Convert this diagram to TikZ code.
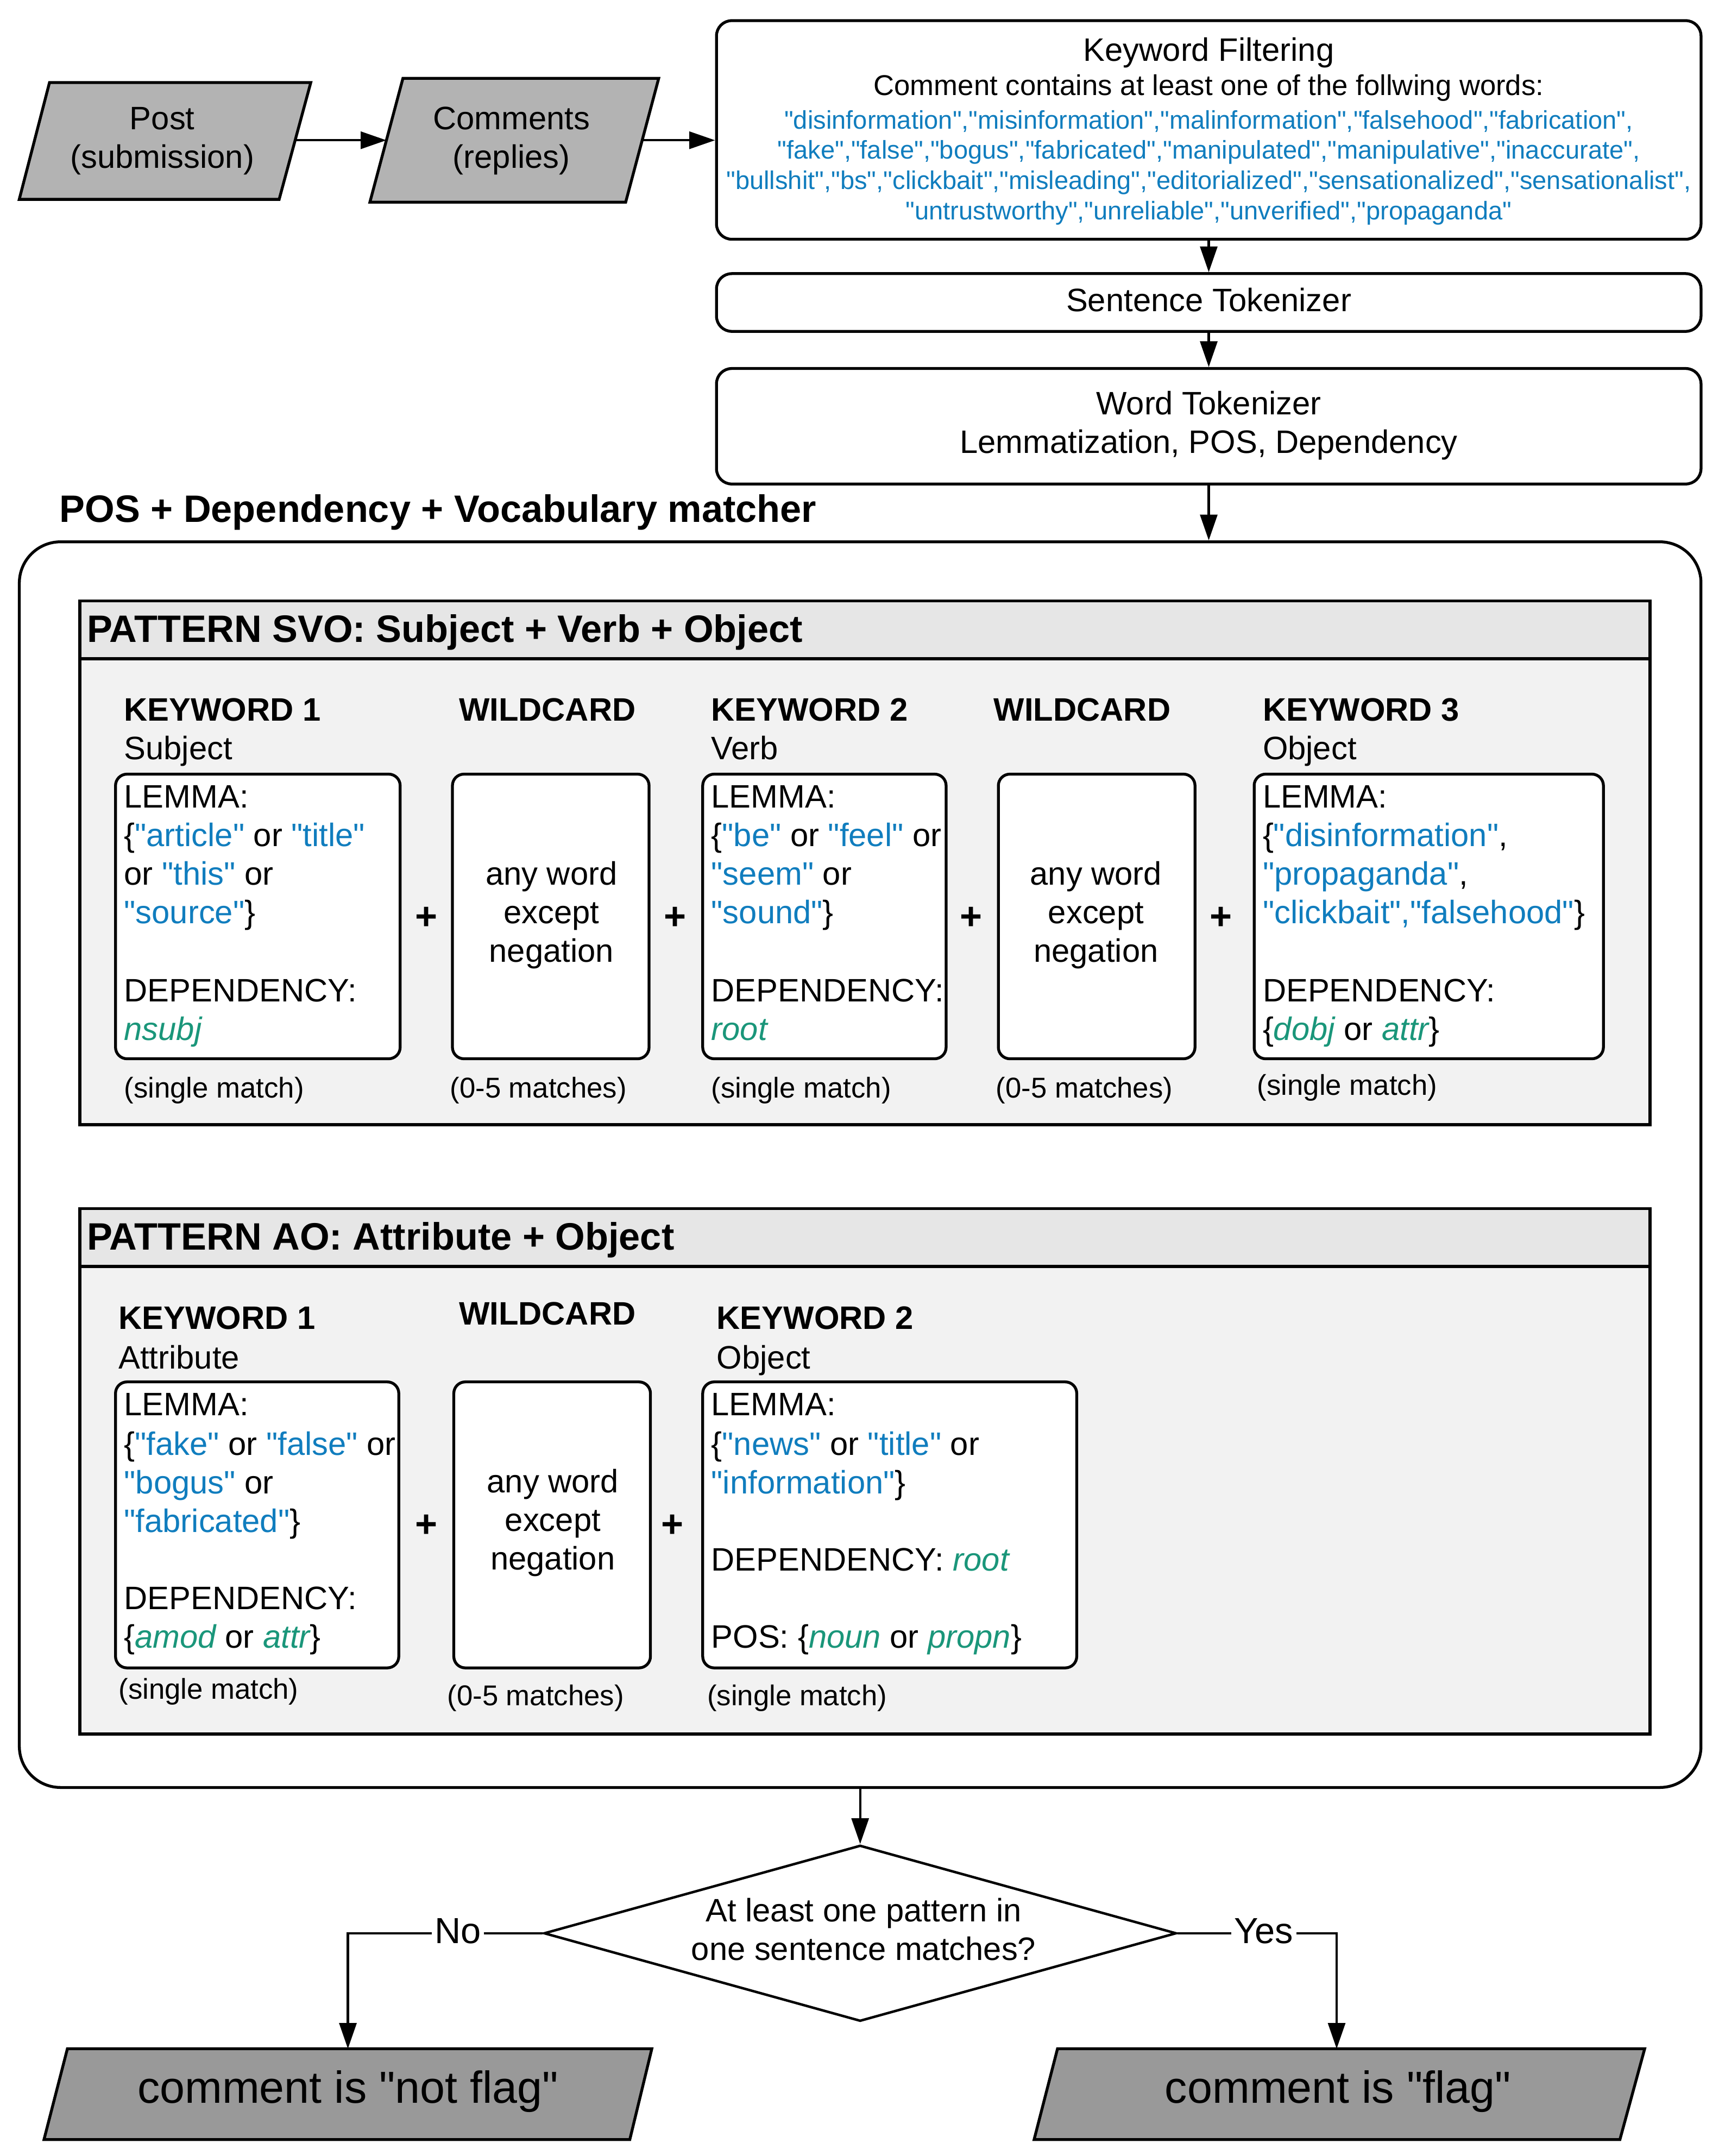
\documentclass[tikz,border=0pt]{standalone}
\usepackage{fontspec}
\setmainfont{Liberation Sans}[Ligatures=TeXOff]
\usetikzlibrary{arrows.meta,shapes.geometric}
\definecolor{kwblue}{RGB}{16,125,190}
\definecolor{depgreen}{RGB}{26,150,122}
\definecolor{iogray}{RGB}{179,179,179}
\definecolor{outgray}{RGB}{153,153,153}
\definecolor{hdrgray}{RGB}{230,230,230}
\definecolor{bodygray}{RGB}{242,242,242}
\def\U{0.7202pt}
\newcommand{\Bl}[1]{\textcolor{kwblue}{#1}}
\newcommand{\Gr}[1]{\textcolor{depgreen}{\itshape #1}}
\tikzset{
  box/.style={draw, line width=1.5pt, rounded corners=6pt, fill=white, inner sep=0pt},
  pbox/.style={draw, line width=1.6pt, fill=bodygray, inner sep=0pt},
  hbox/.style={draw, line width=1.6pt, fill=hdrgray, inner sep=0pt},
  io/.style={draw, line width=1.5pt, fill=iogray, line join=miter},
  outio/.style={draw, line width=1.5pt, fill=outgray, line join=miter},
  arr/.style={line width=1.2pt, -{Triangle[length=13.5pt,width=9pt]}},
  ftxt/.style={font=\fontsize{17pt}{20.2pt}\selectfont, inner sep=0pt, text height=12.2pt, text depth=0pt},
  btxt/.style={font=\fontsize{17pt}{20.2pt}\selectfont\bfseries, inner sep=0pt, text height=12.2pt, text depth=0pt},
  htxt/.style={font=\fontsize{20pt}{24pt}\selectfont\bfseries, inner sep=0pt, text height=14.3pt, text depth=0pt},
  mtxt/.style={font=\fontsize{15pt}{18pt}\selectfont, inner sep=0pt, text height=10.7pt, text depth=0pt},
  wtxt/.style={font=\fontsize{13.4pt}{16pt}\selectfont, inner sep=0pt, text height=9.6pt, text depth=0pt, text=kwblue},
  stxt/.style={font=\fontsize{15pt}{18pt}\selectfont, inner sep=0pt, text height=10.7pt, text depth=0pt},
  ltxt/.style={font=\fontsize{23.5pt}{28pt}\selectfont, inner sep=0pt, text height=16.8pt, text depth=0pt},
  yntxt/.style={font=\fontsize{19pt}{22pt}\selectfont, inner sep=1.5pt, text height=13.6pt, text depth=0pt, fill=white},
  mltxt/.style={font=\fontsize{17pt}{20.2pt}\selectfont, align=center, inner sep=0pt},
}
\begin{document}
\begin{tikzpicture}[x=0.025312cm, y=-0.025312cm]
\useasboundingbox (0,0) rectangle (1250,1568);

% ---------- input parallelograms ----------
\draw[io] (36,60) -- (226,60) -- (203,145) -- (14,145) -- cycle;
\node[mltxt] (post) at (118,102.5) {Post\\(submission)};
\draw[io] (293,57) -- (479,57) -- (455,147) -- (269,147) -- cycle;
\node[mltxt] (comments) at (372,102.5) {Comments\\(replies)};
\coordinate (postR) at (214.6,102);
\coordinate (commL) at (281,102);
\coordinate (commR) at (467,102);

% ---------- keyword filtering ----------
\node[box, rounded corners=8pt, minimum width=716*\U, minimum height=159*\U] (kw) at (879,94.5) {};
\node[ftxt] (kwt1) at (879,36) {Keyword Filtering};
\node[mtxt] (kwt2) at (879,62) {Comment contains at least one of the follwing words:};
\node[wtxt] (kwt3) at (879,87) {"disinformation","misinformation","malinformation","falsehood","fabrication",};
\node[wtxt] (kwt4) at (879,109) {"fake","false","bogus","fabricated","manipulated","manipulative","inaccurate",};
\node[wtxt] (kwt5) at (879,131) {"bullshit","bs","clickbait","misleading","editorialized","sensationalized","sensationalist",};
\node[wtxt] (kwt6) at (879,153) {"untrustworthy","unreliable","unverified","propaganda"};

\node[box, rounded corners=8pt, minimum width=716*\U, minimum height=42*\U] (sent) at (879,220) {};
\node[ftxt] (sentt) at (879,218) {Sentence Tokenizer};
\node[box, rounded corners=8pt, minimum width=716*\U, minimum height=84*\U] (word) at (879,310) {};
\node[ftxt] (wordt1) at (879,293) {Word Tokenizer};
\node[ftxt] (wordt2) at (879,321) {Lemmatization, POS, Dependency};

\node[htxt, anchor=west] (mtitle) at (43,370) {POS + Dependency + Vocabulary matcher};

% ---------- outer matcher box ----------
\node[box, rounded corners=21.6pt, minimum width=1223*\U, minimum height=906*\U] (outer) at (625.5,847) {};

% ---------- pattern SVO ----------
\node[pbox, minimum width=1142*\U, minimum height=381*\U] (svo) at (629,627.5) {};
\node[hbox, minimum width=1142*\U, minimum height=42*\U] (svoh) at (629,458) {};
\node[htxt, anchor=west] (svot) at (63,457) {PATTERN SVO: Subject + Verb + Object};

\node[btxt, anchor=west] (s1h) at (90,516) {KEYWORD 1};
\node[ftxt, anchor=west] (s1s) at (90,544) {Subject};
\node[btxt] (s2h) at (398,516) {WILDCARD};
\node[btxt, anchor=west] (s3h) at (517,516) {KEYWORD 2};
\node[ftxt, anchor=west] (s3s) at (517,544) {Verb};
\node[btxt] (s4h) at (787,516) {WILDCARD};
\node[btxt, anchor=west] (s5h) at (918,516) {KEYWORD 3};
\node[ftxt, anchor=west] (s5s) at (918,544) {Object};

\node[box, minimum width=207*\U, minimum height=207*\U] (sk1) at (187.5,666.5) {};
\node[box, minimum width=143*\U, minimum height=207*\U] (sw1) at (400.5,666.5) {};
\node[box, minimum width=177*\U, minimum height=207*\U] (sk2) at (599.5,666.5) {};
\node[box, minimum width=143*\U, minimum height=207*\U] (sw2) at (797.5,666.5) {};
\node[box, minimum width=254*\U, minimum height=207*\U] (sk3) at (1039,666.5) {};

\node[ftxt, anchor=west] (sk1a) at (90,579) {LEMMA:};
\node[ftxt, anchor=west] (sk1b) at (90,607) {\{\Bl{"article"} or \Bl{"title"}};
\node[ftxt, anchor=west] (sk1c) at (90,635) {or \Bl{"this"} or};
\node[ftxt, anchor=west] (sk1d) at (90,663) {\Bl{"source"}\}};
\node[ftxt, anchor=west] (sk1e) at (90,720) {DEPENDENCY:};
\node[ftxt, anchor=west] (sk1f) at (90,748) {\Gr{nsubj}};

\node[ftxt] (sw1a) at (401,635) {any word};
\node[ftxt] (sw1b) at (401,663) {except};
\node[ftxt] (sw1c) at (401,691) {negation};

\node[ftxt, anchor=west] (sk2a) at (517,579) {LEMMA:};
\node[ftxt, anchor=west] (sk2b) at (517,607) {\{\Bl{"be"} or \Bl{"feel"} or};
\node[ftxt, anchor=west] (sk2c) at (517,635) {\Bl{"seem"} or};
\node[ftxt, anchor=west] (sk2d) at (517,663) {\Bl{"sound"}\}};
\node[ftxt, anchor=west] (sk2e) at (517,720) {DEPENDENCY:};
\node[ftxt, anchor=west] (sk2f) at (517,748) {\Gr{root}};

\node[ftxt] (sw2a) at (797,635) {any word};
\node[ftxt] (sw2b) at (797,663) {except};
\node[ftxt] (sw2c) at (797,691) {negation};

\node[ftxt, anchor=west] (sk3a) at (918,579) {LEMMA:};
\node[ftxt, anchor=west] (sk3b) at (918,607) {\{\Bl{"disinformation"},};
\node[ftxt, anchor=west] (sk3c) at (918,635) {\Bl{"propaganda"},};
\node[ftxt, anchor=west] (sk3d) at (918,663) {\Bl{"clickbait","falsehood"}\}};
\node[ftxt, anchor=west] (sk3e) at (918,720) {DEPENDENCY:};
\node[ftxt, anchor=west] (sk3f) at (918,748) {\{\Gr{dobj} or \Gr{attr}\}};

\node[htxt] (sp1) at (310,666) {+};
\node[htxt] (sp2) at (491,666) {+};
\node[htxt] (sp3) at (706,666) {+};
\node[htxt] (sp4) at (888,666) {+};

\node[stxt, anchor=west] (sn1) at (90,791) {(single match)};
\node[stxt, anchor=west] (sn2) at (327,791) {(0-5 matches)};
\node[stxt, anchor=west] (sn3) at (517,791) {(single match)};
\node[stxt, anchor=west] (sn4) at (724,791) {(0-5 matches)};
\node[stxt, anchor=west] (sn5) at (914,789) {(single match)};

% ---------- pattern AO ----------
\node[pbox, minimum width=1142*\U, minimum height=382*\U] (ao) at (629,1070) {};
\node[hbox, minimum width=1142*\U, minimum height=42*\U] (aoh) at (629,900) {};
\node[htxt, anchor=west] (aot) at (63,899) {PATTERN AO: Attribute + Object};

\node[btxt, anchor=west] (a1h) at (86,958) {KEYWORD 1};
\node[ftxt, anchor=west] (a1s) at (86,987) {Attribute};
\node[btxt] (a2h) at (398,955) {WILDCARD};
\node[btxt, anchor=west] (a3h) at (521,958) {KEYWORD 2};
\node[ftxt, anchor=west] (a3s) at (521,987) {Object};

\node[box, minimum width=206*\U, minimum height=208*\U] (ak1) at (187,1109) {};
\node[box, minimum width=143*\U, minimum height=208*\U] (aw1) at (401.5,1109) {};
\node[box, minimum width=272*\U, minimum height=208*\U] (ak2) at (647,1109) {};

\node[ftxt, anchor=west] (ak1a) at (90,1021) {LEMMA:};
\node[ftxt, anchor=west] (ak1b) at (90,1050) {\{\Bl{"fake"} or \Bl{"false"} or};
\node[ftxt, anchor=west] (ak1c) at (90,1078) {\Bl{"bogus"} or};
\node[ftxt, anchor=west] (ak1d) at (90,1106) {\Bl{"fabricated"}\}};
\node[ftxt, anchor=west] (ak1e) at (90,1162) {DEPENDENCY:};
\node[ftxt, anchor=west] (ak1f) at (90,1190) {\{\Gr{amod} or \Gr{attr}\}};

\node[ftxt] (aw1a) at (402,1077) {any word};
\node[ftxt] (aw1b) at (402,1105) {except};
\node[ftxt] (aw1c) at (402,1133) {negation};

\node[ftxt, anchor=west] (ak2a) at (517,1021) {LEMMA:};
\node[ftxt, anchor=west] (ak2b) at (517,1050) {\{\Bl{"news"} or \Bl{"title"} or};
\node[ftxt, anchor=west] (ak2c) at (517,1078) {\Bl{"information"}\}};
\node[ftxt, anchor=west] (ak2d) at (517,1134) {DEPENDENCY: \Gr{root}};
\node[ftxt, anchor=west] (ak2e) at (517,1190) {POS: \{\Gr{noun} or \Gr{propn}\}};

\node[htxt] (ap1) at (310,1108) {+};
\node[htxt] (ap2) at (489,1108) {+};

\node[stxt, anchor=west] (an1) at (86,1228) {(single match)};
\node[stxt, anchor=west] (an2) at (325,1233) {(0-5 matches)};
\node[stxt, anchor=west] (an3) at (514,1233) {(single match)};

% ---------- decision ----------
\node[diamond, draw, line width=1.3pt, fill=white, inner sep=0pt, minimum width=460*\U, minimum height=128*\U, mltxt] (dia) at (625.5,1406) {};
\node[ftxt] (diat1) at (628,1389) {At least one pattern in};
\node[ftxt] (diat2) at (628,1417) {one sentence matches?};

% ---------- outputs ----------
\draw[outio] (49,1490) -- (474,1490) -- (458,1556) -- (32,1556) -- cycle;
\node[ltxt] (notflag) at (253,1518) {comment is "not flag"};
\draw[outio] (769,1490) -- (1196,1490) -- (1178,1556) -- (752,1556) -- cycle;
\node[ltxt] (flag) at (973,1518) {comment is "flag"};
\coordinate (nfT) at (253,1490);
\coordinate (fT) at (972,1490);

% ---------- connectors ----------
\draw[arr] (postR) -- (commL);
\draw[arr] (commR) -- (commR -| kw.west);
\draw[arr] (kw.south) -- (sent.north);
\draw[arr] (sent.south) -- (word.north);
\draw[arr] (word.south) -- (word.south |- outer.north);
\draw[arr] (outer.south) -- (dia.north);
\draw[arr] (dia.west) -| (nfT);
\draw[arr] (dia.east) -| (fT);
\node[yntxt] (nolab) at (333,1404) {No};
\node[yntxt] (yeslab) at (919,1404) {Yes};
\end{tikzpicture}
\end{document}
